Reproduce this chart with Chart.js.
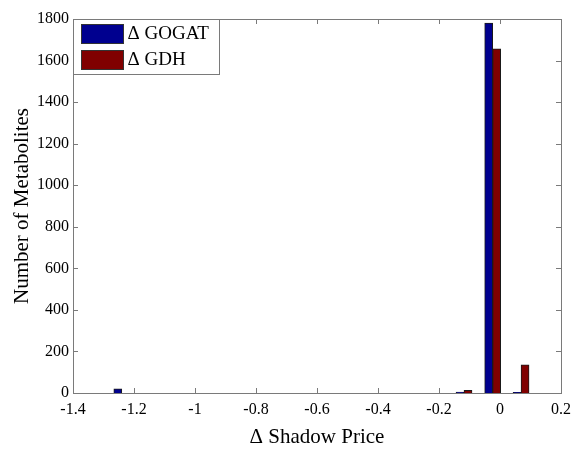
<!DOCTYPE html>
<html lang="en">
<head>
<meta charset="UTF-8">
<title>Shadow Price Histogram</title>
<style>
body, html {
    margin: 0;
    padding: 0;
    background: #ffffff;
}
#wrap {
    width: 572px;
    height: 450px;
}
</style>
<script src="https://cdn.jsdelivr.net/npm/chart.js"></script>
</head>
<body>
<div id="wrap"><canvas id="histChart" width="572" height="450"></canvas></div>
<script>
// histogram bins (centers) and counts per knockout
const binCenters = [-1.24, -0.118, -0.024, 0.069];
const gogatCounts = [20, 5, 1780, 3];
const gdhCounts = [0, 13, 1657, 136];
const seriesLabels = ['\u0394 GOGAT', '\u0394 GDH'];
const xTickValues = [-1.4, -1.2, -1, -0.8, -0.6, -0.4, -0.2, 0, 0.2];
const yTickValues = [0, 200, 400, 600, 800, 1000, 1200, 1400, 1600, 1800];

const serif = "'Liberation Serif', 'Times New Roman', serif";
const axisGray = '#7a7a7a';
const barColors = ['#00008f', '#800000'];

// MATLAB-style box: full frame with inward ticks on every side
const boxAxes = {
    id: 'boxAxes',
    beforeDatasetsDraw(chart) {
        const { ctx, chartArea: a, scales } = chart;
        const len = 5;
        ctx.save();
        ctx.strokeStyle = axisGray;
        ctx.lineWidth = 1;
        ctx.beginPath();
        scales.x.ticks.forEach(t => {
            const px = Math.round(scales.x.getPixelForValue(t.value)) + 0.5;
            ctx.moveTo(px, a.bottom); ctx.lineTo(px, a.bottom - len);
            ctx.moveTo(px, a.top); ctx.lineTo(px, a.top + len);
        });
        scales.y.ticks.forEach(t => {
            const py = Math.round(scales.y.getPixelForValue(t.value)) + 0.5;
            ctx.moveTo(a.left, py); ctx.lineTo(a.left + len, py);
            ctx.moveTo(a.right, py); ctx.lineTo(a.right - len, py);
        });
        ctx.stroke();
        ctx.strokeRect(Math.round(a.left) + 0.5, Math.round(a.top) + 0.5,
            Math.round(a.right - a.left), Math.round(a.bottom - a.top));
        ctx.restore();
    }
};

// framed legend in the upper left corner
const boxLegend = {
    id: 'boxLegend',
    afterDatasetsDraw(chart) {
        const { ctx, chartArea: a } = chart;
        const x0 = Math.round(a.left) + 0.5, y0 = Math.round(a.top) + 0.5;
        ctx.save();
        ctx.fillStyle = '#ffffff';
        ctx.fillRect(x0, y0, 146, 55);
        ctx.strokeStyle = axisGray;
        ctx.strokeRect(x0, y0, 146, 55);
        ctx.font = '19px ' + serif;
        ctx.textBaseline = 'middle';
        chart.data.datasets.forEach((ds, i) => {
            const sy = y0 + 5 + i * 26;
            ctx.fillStyle = ds.backgroundColor;
            ctx.fillRect(x0 + 8, sy, 42, 19);
            ctx.strokeStyle = '#333333';
            ctx.strokeRect(x0 + 8, sy, 42, 19);
            ctx.fillStyle = '#000000';
            ctx.fillText(ds.label, x0 + 54, sy + 10);
        });
        ctx.restore();
    }
};

const ctx = document.getElementById('histChart').getContext('2d');
new Chart(ctx, {
    type: 'bar',
    data: {
        labels: binCenters,
        datasets: [
            {
                label: seriesLabels[0],
                data: binCenters.map((x, i) => ({ x: x, y: gogatCounts[i] })),
                backgroundColor: barColors[0],
                borderColor: '#1a1a1a',
                borderWidth: 1
            },
            {
                label: seriesLabels[1],
                data: binCenters.map((x, i) => ({ x: x, y: gdhCounts[i] })),
                backgroundColor: barColors[1],
                borderColor: '#1a1a1a',
                borderWidth: 1
            }
        ]
    },
    options: {
        responsive: false,
        animation: false,
        barThickness: 8,
        layout: { padding: { top: 19, right: 11, left: 0, bottom: 0 } },
        plugins: {
            legend: { display: false },
            tooltip: { enabled: false }
        },
        scales: {
            x: {
                type: 'linear',
                min: -1.4,
                max: 0.2,
                offset: false,
                afterBuildTicks: s => { s.ticks = xTickValues.map(v => ({ value: v })); },
                afterFit: s => { s.height = 57; s.paddingRight = 0; s.paddingLeft = 0; },
                grid: { display: false, drawTicks: false },
                border: { display: false },
                ticks: {
                    color: '#000000',
                    padding: 7,
                    maxRotation: 0,
                    font: { family: serif, size: 16 },
                    callback: v => String(v)
                },
                title: {
                    display: true,
                    text: '\u0394 Shadow Price',
                    color: '#000000',
                    font: { family: serif, size: 21 },
                    padding: { top: 0, bottom: 0 }
                }
            },
            y: {
                min: 0,
                max: 1800,
                afterBuildTicks: s => { s.ticks = yTickValues.map(v => ({ value: v })); },
                afterFit: s => { s.width = 73; },
                grid: { display: false, drawTicks: false },
                border: { display: false },
                ticks: {
                    color: '#000000',
                    padding: 4,
                    font: { family: serif, size: 16 },
                    callback: v => String(v)
                },
                title: {
                    display: true,
                    text: 'Number of Metabolites',
                    color: '#000000',
                    font: { family: serif, size: 21 },
                    padding: { top: 10, bottom: 0 }
                }
            }
        }
    },
    plugins: [boxAxes, boxLegend]
});
</script>
</body>
</html>
